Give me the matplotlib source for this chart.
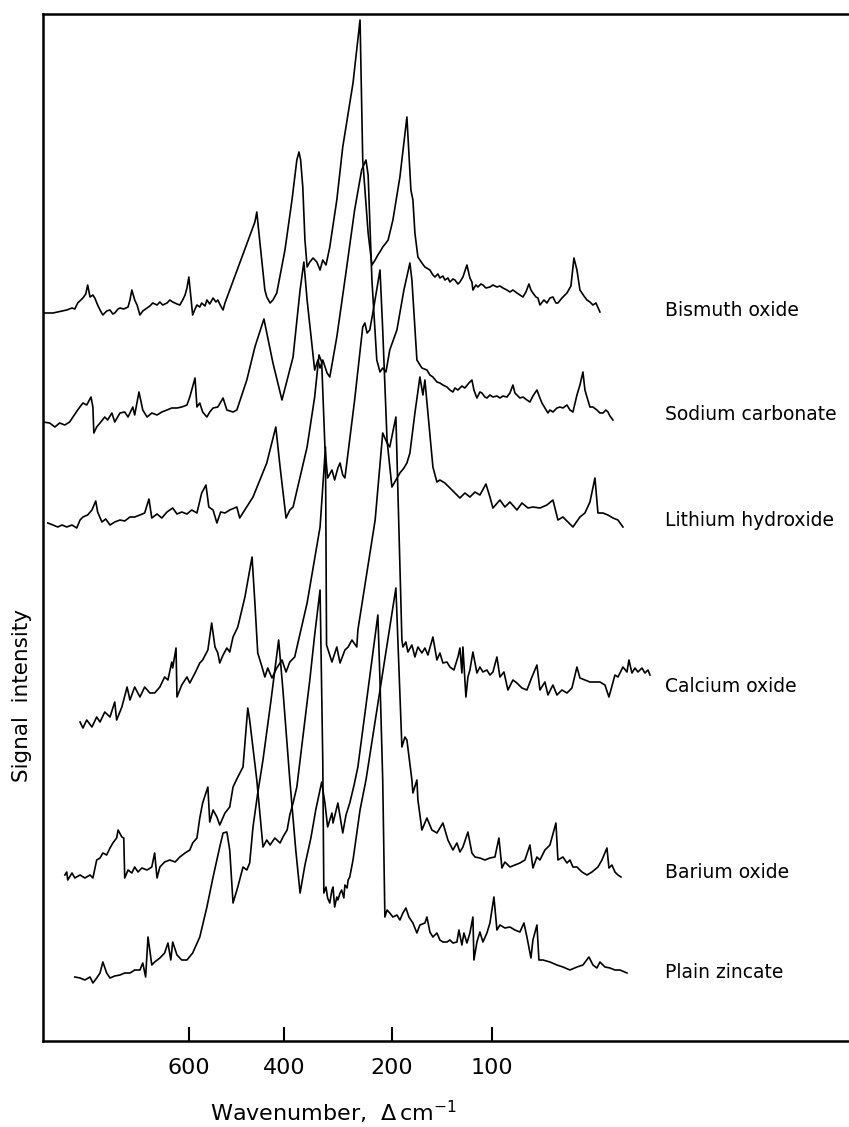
import numpy as np
import matplotlib
matplotlib.use("Agg")
from matplotlib import pyplot as plt

plt.rcParams['font.family'] = 'DejaVu Sans'
plt.rcParams['mathtext.fontset'] = 'dejavusans'

# Raman spectra, wavenumber (delta cm-1) and signal above each trace's own baseline

bi_w = [907, 897, 886, 876, 867, 857, 846, 840, 834, 823, 817, 813, 808, 802, 798, 792, 787, 781, 773, 766,
        760, 756, 749, 745, 737, 728, 724, 720, 714, 709, 703, 697, 688, 682, 676, 667, 661, 655, 646, 640,
        634, 625, 619, 613, 608, 604, 600, 596, 592, 587, 583, 577, 573, 566, 562, 556, 549, 543, 539, 533,
        528, 524, 465, 461, 457, 451, 440, 436, 429, 423, 415, 398, 385, 376, 372, 369, 365, 361, 357, 352,
        346, 339, 333, 328, 322, 315, 302, 291, 272, 259, 254, 244, 237, 231, 226, 220, 217, 211, 207, 199,
        192, 185, 181, 179, 177, 174, 170, 167, 162, 159, 157, 154, 152, 149, 147, 144, 142, 139, 137, 134,
        132, 129, 125, 122, 120, 119, 116, 114, 111, 109, 106, 102, 99, 95, 92, 89, 85, 82, 79, 75,
        72, 69, 66, 63, 61, 59, 56, 54, 52, 48, 45, 42, 39, 36, 34, 30, 25, 21, 18, 15,
        12, 8, 5, 2, -1, -4, -8]
bi_i = [0, 0, 0, 1, 2, 3, 5, 4, 10, 15, 19, 28, 16, 18, 15, 8, 3, -2, 2, 3,
        -1, 0, 4, 5, 4, 6, 13, 23, 13, 8, -2, 2, 5, 7, 10, 8, 11, 8, 10, 13,
        11, 9, 8, 13, 18, 25, 36, 17, -2, 4, 8, 6, 10, 7, 13, 9, 15, 11, 13, 7,
        3, 10, 86, 91, 101, 73, 23, 16, 10, 13, 20, 63, 113, 153, 161, 153, 126, 73, 46, 51,
        55, 51, 43, 53, 48, 66, 113, 166, 230, 293, 153, 80, 48, 53, 58, 63, 66, 70, 73, 93,
        136, 196, 123, 113, 80, 56, 50, 46, 43, 38, 36, 39, 35, 37, 33, 35, 31, 34, 33, 29,
        31, 36, 48, 35, 31, 23, 28, 26, 29, 28, 25, 26, 28, 26, 27, 25, 23, 21, 23, 20,
        18, 16, 21, 29, 23, 20, 16, 15, 8, 13, 10, 15, 16, 10, 10, 15, 20, 27, 55, 43,
        23, 17, 13, 11, 8, 10, 1]

na_w = [907, 893, 882, 872, 861, 851, 844, 834, 823, 815, 806, 802, 800, 794, 787, 777, 771, 762, 756, 745,
        735, 728, 718, 714, 705, 697, 688, 678, 667, 657, 646, 636, 625, 615, 604, 598, 587, 583, 577, 571,
        562, 556, 549, 539, 528, 520, 507, 499, 478, 461, 442, 423, 404, 383, 370, 363, 357, 348, 343, 337,
        333, 328, 320, 315, 302, 287, 269, 256, 248, 244, 237, 228, 222, 217, 211, 204, 195, 188, 182, 180,
        175, 170, 165, 162, 159, 155, 152, 149, 145, 142, 139, 137, 134, 130, 127, 123, 120, 118, 115, 112,
        110, 107, 105, 102, 99, 95, 92, 89, 85, 82, 79, 77, 75, 72, 69, 65, 62, 59, 55, 52,
        50, 47, 44, 42, 39, 35, 32, 29, 25, 22, 19, 15, 12, 9, 7, 5, 2, -1, -5, -8,
        -11, -14, -16, -18, -21]
na_i = [0, -1, -5, -1, -3, 0, 5, 12, 19, 17, 25, 15, -11, -5, -1, 5, 2, 9, 0, 9,
        10, 5, 15, 7, 30, 12, 5, 9, 7, 10, 12, 14, 14, 15, 17, 25, 44, 15, 19, 10,
        5, 10, 14, 15, 24, 12, 10, 12, 42, 75, 103, 59, 22, 65, 132, 160, 122, 77, 52, 62,
        54, 62, 49, 45, 85, 142, 212, 252, 262, 247, 142, 62, 50, 54, 50, 72, 92, 132, 159, 142,
        62, 54, 52, 47, 45, 40, 39, 37, 35, 32, 30, 34, 32, 36, 34, 39, 42, 32, 24, 30,
        29, 25, 24, 27, 25, 26, 24, 26, 25, 29, 37, 29, 27, 24, 25, 22, 20, 26, 32, 24,
        19, 14, 9, 12, 10, 14, 15, 14, 17, 12, 10, 27, 37, 50, 32, 25, 15, 15, 12, 9,
        9, 12, 10, 6, 2]

li_w = [897, 886, 876, 867, 857, 846, 836, 829, 823, 813, 804, 796, 792, 783, 775, 766, 756, 745, 735, 724,
        714, 703, 693, 684, 678, 667, 657, 646, 634, 625, 615, 604, 594, 583, 573, 564, 558, 549, 541, 533,
        524, 514, 499, 493, 465, 436, 417, 408, 396, 389, 383, 357, 343, 335, 330, 324, 319, 311, 306, 300,
        296, 291, 287, 269, 254, 250, 246, 241, 235, 222, 217, 209, 200, 196, 192, 188, 185, 182, 177, 172,
        169, 167, 164, 159, 155, 152, 147, 142, 137, 132, 127, 122, 117, 112, 106, 102, 99, 92, 87, 82,
        75, 70, 64, 59, 52, 45, 39, 34, 29, 24, 19, 12, 7, 2, -3, -6, -11, -16, -21, -26,
        -31]
li_i = [0, -2, -4, -2, -4, -2, -5, 3, 6, 8, 13, 22, 11, 1, 4, -2, 1, 3, 2, 6,
        6, 8, 10, 24, 5, 9, 5, 11, 15, 9, 11, 9, 13, 10, 30, 38, 16, 13, 0, 11,
        10, 13, 16, 5, 26, 60, 96, 56, 5, 13, 16, 76, 126, 168, 161, 76, 45, 53, 43, 55,
        60, 48, 45, 123, 196, 200, 190, 193, 211, 253, 193, 83, 36, 43, 50, 55, 60, 70, 110, 146,
        128, 143, 110, 56, 41, 43, 40, 35, 30, 25, 30, 26, 31, 28, 39, 26, 15, 23, 16, 21,
        13, 20, 15, 16, 15, 18, 23, 3, 6, 1, -4, 6, 10, 21, 45, 10, 10, 8, 5, 3,
        -4]

ca_w = [829, 823, 815, 804, 794, 787, 777, 766, 756, 752, 741, 730, 724, 714, 703, 693, 682, 672, 661, 651,
        644, 636, 634, 627, 625, 615, 604, 598, 587, 577, 571, 560, 552, 545, 539, 535, 528, 520, 514, 507,
        497, 482, 467, 461, 455, 446, 440, 434, 425, 415, 404, 396, 389, 380, 357, 333, 323, 321, 311,
        302, 296, 287, 281, 274, 265, 263, 231, 217, 209, 204, 196, 190, 189, 186, 184, 180, 177, 174, 170,
        167, 164, 159, 155, 152, 149, 145, 142, 138, 134, 132, 130, 129, 126, 124, 122, 119, 115, 112, 109,
        105, 102, 99, 95, 92, 88, 84, 79, 75, 70, 65, 60, 55, 52, 47, 44, 39, 35, 30, 25,
        20, 15, 12, 7, 2, -3, -8, -13, -17, -23, -26, -31, -35, -37, -40, -43, -46, -50, -53, -56,
        -58]
ca_i = [0, -6, 2, -5, 5, 0, 10, 5, 20, 2, 15, 35, 22, 35, 25, 35, 29, 29, 35, 45,
        42, 60, 54, 74, 25, 37, 45, 39, 49, 59, 62, 72, 99, 75, 69, 59, 67, 74, 70, 85,
        95, 125, 165, 119, 69, 55, 45, 54, 44, 54, 62, 50, 60, 65, 119, 195, 275, 77, 60,
        75, 59, 72, 75, 82, 75, 92, 202, 289, 279, 275, 305, 82, 75, 80, 70, 77, 65, 75, 69,
        74, 67, 85, 62, 69, 59, 60, 55, 52, 65, 74, 49, 75, 25, 45, 52, 70, 49, 55, 50,
        52, 47, 50, 65, 45, 50, 32, 42, 39, 34, 32, 45, 57, 32, 40, 27, 37, 27, 32, 29,
        34, 55, 44, 42, 40, 40, 40, 37, 25, 47, 45, 55, 50, 62, 49, 54, 50, 54, 49, 52,
        47]

ba_w = [861, 857, 855, 846, 840, 829, 819, 808, 802, 794, 787, 781, 773, 766, 760, 752, 749, 741, 737, 735,
        728, 720, 714, 707, 699, 688, 678, 672, 667, 661, 651, 640, 629, 619, 608, 598, 592, 583, 577, 571,
        564, 560, 556, 549, 541, 535, 524, 514, 507, 497, 486, 476, 472, 457, 444, 436, 429, 419, 408, 402,
        394, 389, 383, 376, 370, 361, 352, 343, 333, 328, 326, 322, 319, 315, 311, 309, 306, 302, 300, 296,
        293, 289, 287, 283, 281, 278, 272, 259, 248, 196, 190, 187, 185, 180, 179, 175, 174, 170, 165, 160,
        155, 149, 144, 139, 135, 132, 129, 124, 120, 117, 112, 107, 102, 97, 93, 90, 87, 82, 77, 72,
        67, 62, 59, 55, 52, 47, 42, 36, 34, 29, 25, 22, 19, 15, 10, 5, 0, -6, -10, -15,
        -17, -20, -23, -26, -29]
ba_i = [0, 3, -5, 2, -3, 0, -3, 0, -3, 15, 17, 22, 20, 27, 32, 37, 45, 38, 37, -3,
        5, 2, 8, 3, 7, 5, 8, 22, -3, 8, 13, 15, 13, 18, 22, 25, 32, 37, 57, 72,
        82, 88, 53, 65, 58, 50, 62, 68, 88, 98, 108, 167, 155, 95, 28, 35, 30, 37, 32, 38,
        45, 60, 72, 88, 115, 155, 195, 240, 285, 115, -18, -12, -23, -28, -15, -12, -32, -22, -25, -18,
        -15, -23, -10, -13, -5, -2, 15, 65, 95, 287, 128, 138, 135, 95, 82, 95, 75, 45, 57, 45,
        42, 52, 35, 25, 32, 23, 28, 43, 22, 18, 17, 15, 17, 18, 37, 7, 13, 8, 10, 12,
        15, 30, 7, 18, 15, 25, 30, 52, 15, 18, 12, 15, 8, 8, 3, 0, 3, 8, 15, 27,
        7, 10, 3, 0, -2]

zn_w = [840, 829, 819, 808, 802, 794, 787, 781, 773, 766, 756, 745, 735, 724, 714, 703, 697, 691, 686, 678,
        672, 661, 651, 644, 638, 634, 625, 615, 604, 592, 577, 562, 549, 535, 528, 520, 514, 507, 497, 486,
        478, 472, 465, 455, 444, 427, 411, 402, 389, 378, 370, 361, 350, 341, 330, 324, 319, 311, 309, 300,
        291, 285, 278, 270, 263, 226, 222, 217, 213, 209,
        204, 199, 195, 192, 189, 186, 183, 179, 175, 172, 167, 165, 162, 159, 155, 152, 149, 145, 142, 139,
        135, 133, 130, 128, 125, 122, 119, 118, 115, 112, 109, 105, 102, 98, 95, 92, 87, 82, 77, 72,
        68, 65, 61, 59, 55, 53, 49, 42, 35, 29, 22, 15, 9, 3, -1, -5, -8, -13, -18, -23,
        -28, -35]
zn_i = [0, -1, -3, 0, -6, -1, 4, 15, 4, -1, 1, 2, 4, 4, 7, 7, 14, 0, 40, 12,
        15, 19, 24, 34, 17, 35, 22, 17, 17, 24, 40, 70, 100, 130, 144, 145, 127, 74, 90, 110,
        107, 114, 150, 184, 217, 277, 337, 287, 197, 127, 84, 112, 139, 167, 195, 174, 150, 164, 154, 174,
        144, 162, 174, 192, 210, 362, 295, 197, 60, 67,
        64, 60, 62, 57, 64, 69, 60, 54, 44, 52, 54, 60, 45, 40, 44, 37, 35, 35, 37, 34,
        35, 47, 32, 44, 34, 44, 60, 17, 35, 45, 35, 44, 54, 80, 47, 52, 49, 50, 47, 45,
        54, 40, 19, 37, 52, 17, 17, 15, 12, 10, 7, 10, 12, 20, 12, 9, 15, 10, 9, 7,
        7, 4]

names = ["Bismuth oxide", "Sodium carbonate", "Lithium hydroxide",
         "Calcium oxide", "Barium oxide", "Plain zincate"]
offsets = [728, 619, 518, 319, 166, 64]
label_dy = [3, 7, 3, 35, 2, 4]

spectra = [(bi_w, bi_i), (na_w, na_i), (li_w, li_i),
           (ca_w, ca_i), (ba_w, ba_i), (zn_w, zn_i)]

# the chart paper is not linear in wavenumber: calibrate it on the tick marks
cal_w = np.array([-300, 100, 200, 400, 600, 950])
cal_p = np.array([892, 492, 392, 284, 189, 22.75])


def fwd(w):
    return np.interp(w, cal_w, -cal_p)


def inv(v):
    return np.interp(v, -cal_p, cal_w)


fig = plt.figure(figsize=(8.49, 11.27), dpi=100)
ax = fig.add_axes([43/849, 1 - 1041/1127, 1 - 43/849, 1027/1127])

for (w, s), off in zip(spectra, offsets):
    ax.plot(w, np.array(s) + off, color='black', lw=1.2)

for name, off, dy in zip(names, offsets, label_dy):
    ax.text(-73, off + dy, name, fontsize=13.5, va='center', ha='left')

ax.set_xscale('function', functions=(fwd, inv))
ax.set_xlim(907, -257)
ax.set_ylim(0, 1027)

ax.set_xticks([600, 400, 200, 100])
ax.set_xticklabels(["600", "400", "200", "100"])
ax.xaxis.set_minor_locator(matplotlib.ticker.NullLocator())
ax.tick_params(axis='x', direction='in', length=10, width=1.5, pad=12, labelsize=16)
ax.set_yticks([])

for side in ['left', 'top', 'bottom']:
    ax.spines[side].set_linewidth(1.8)
ax.spines['right'].set_visible(False)

fig.text(333/849, 1 - 1112/1127, r"Wavenumber,  $\Delta\,$cm$^{-1}$",
         fontsize=16, ha='center', va='center')
fig.text(22/849, 1 - 695/1127, "Signal  intensity", fontsize=15.5,
         rotation=90, ha='center', va='center')

fig.savefig("out.png", dpi=100)
